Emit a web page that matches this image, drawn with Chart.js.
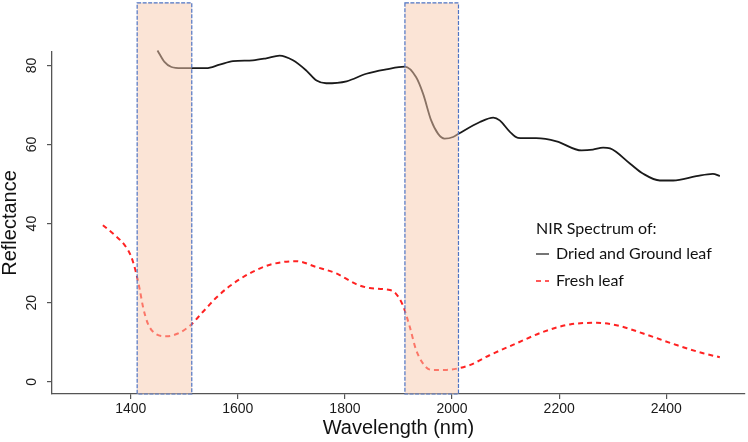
<!DOCTYPE html>
<html>
<head>
<meta charset="utf-8">
<script src="https://cdn.jsdelivr.net/npm/chart.js@4"></script>
<style>
  html, body { margin: 0; padding: 0; background: #ffffff; }
  #wrap { width: 748px; height: 442px; }
</style>
</head>
<body>
<div id="wrap"><canvas id="nirChart" width="748" height="442"></canvas></div>
<script>
// Dried and ground leaf spectrum (solid black)
const wlDried = [1450, 1463, 1476, 1495, 1514, 1541, 1566, 1591, 1628, 1653, 1678, 1703, 1728, 1747, 1765, 1803, 1840, 1877, 1912, 1933, 1946, 1961, 1974, 1986, 2002, 2012, 2052, 2077, 2089, 2108, 2123, 2157, 2195, 2242, 2263, 2282, 2295, 2332, 2357, 2388, 2413, 2456, 2487, 2500];
const reflDried = [83.8, 80.9, 79.6, 79.3, 79.3, 79.3, 80.2, 81.1, 81.3, 81.8, 82.5, 81.3, 78.7, 76.2, 75.5, 76.0, 77.9, 79.0, 79.7, 77.0, 72.8, 66.1, 62.7, 61.5, 61.9, 62.7, 65.7, 66.8, 66.1, 63.2, 61.7, 61.6, 60.8, 58.5, 58.7, 59.2, 59.0, 55.2, 52.6, 50.9, 50.9, 52.0, 52.6, 52.0];

// Fresh leaf spectrum (red dashed)
const wlFresh = [1348, 1370, 1389, 1401, 1411, 1417, 1423, 1432, 1448, 1467, 1488, 1510, 1535, 1560, 1585, 1622, 1660, 1709, 1747, 1784, 1821, 1846, 1884, 1895, 1908, 1921, 1933, 1952, 1965, 1990, 2012, 2033, 2070, 2120, 2170, 2220, 2270, 2307, 2357, 2419, 2469, 2500];
const reflFresh = [39.6, 37.1, 34.5, 31.6, 27.0, 23.2, 18.9, 14.7, 12.0, 11.5, 12.2, 14.1, 17.7, 21.3, 24.2, 27.4, 29.6, 30.5, 29.0, 27.4, 24.7, 23.7, 23.2, 22.3, 19.4, 13.9, 8.0, 3.6, 3.0, 3.0, 3.4, 4.2, 6.7, 9.7, 12.6, 14.5, 14.9, 14.3, 12.2, 9.3, 7.2, 6.2];

// water absorption bands (nm)
const bandStart = [1412, 1912];
const bandEnd = [1514, 2012];
const bandTop = 95.8;

const xTicks = [1400, 1600, 1800, 2000, 2200, 2400];
const yTicks = [0, 20, 40, 60, 80];
const xMin = 1253, xMax = 2547;
const yMin = -3.1, yMax = 83.4;

const legendTitle = 'NIR Spectrum of:';

function toPoints(xs, ys) {
    return xs.map((x, i) => ({ x: x, y: ys[i] }));
}

// shaded bands drawn over the lines, plus the legend
const bandsPlugin = {
    id: 'bands',
    afterDatasetsDraw(chart) {
        const ctx = chart.ctx;
        const xs = chart.scales.x, ys = chart.scales.y;
        ctx.save();
        for (let i = 0; i < bandStart.length; i++) {
            const x1 = xs.getPixelForValue(bandStart[i]);
            const x2 = xs.getPixelForValue(bandEnd[i]);
            const y1 = ys.getPixelForValue(bandTop);
            const y2 = ys.getPixelForValue(yMin);
            ctx.fillStyle = 'rgba(247, 201, 173, 0.5)';
            ctx.fillRect(x1, y1, x2 - x1, y2 - y1);
            ctx.strokeStyle = '#4f74c4';
            ctx.lineWidth = 1.2;
            ctx.setLineDash([4, 1.5]);
            ctx.strokeRect(x1, y1, x2 - x1, y2 - y1);
        }
        ctx.restore();
    },
    afterDraw(chart) {
        const ctx = chart.ctx;
        ctx.save();
        ctx.font = '16px Lato, "Open Sans", sans-serif';
        ctx.fillStyle = '#111';
        ctx.textBaseline = 'middle';
        ctx.fillText(legendTitle, 536, 229);
        chart.data.datasets.forEach((ds, i) => {
            const y = 254 + i * 27;
            ctx.strokeStyle = ds.borderColor;
            ctx.lineWidth = ds.borderWidth > 1.9 ? 1.6 : 1.2;
            ctx.setLineDash(ds.borderDash || []);
            ctx.beginPath();
            ctx.moveTo(536, y);
            ctx.lineTo(549, y);
            ctx.stroke();
            ctx.fillStyle = '#111';
            ctx.fillText(ds.label, 556, y);
        });
        ctx.restore();
    }
};

const axisColor = '#555';
const tickFont = { family: 'Arial, "Liberation Sans", sans-serif', size: 14 };
const titleFont = { family: 'Arial, "Liberation Sans", sans-serif', size: 20, lineHeight: 1 };

new Chart(document.getElementById('nirChart').getContext('2d'), {
    type: 'line',
    data: {
        datasets: [{
            label: 'Dried and Ground leaf',
            data: toPoints(wlDried, reflDried),
            borderColor: '#1a1a1a',
            borderWidth: 1.8,
            pointRadius: 0,
            cubicInterpolationMode: 'monotone',
            clip: false
        }, {
            label: 'Fresh leaf',
            data: toPoints(wlFresh, reflFresh),
            borderColor: '#ff2222',
            borderWidth: 2,
            borderDash: [5, 4],
            pointRadius: 0,
            cubicInterpolationMode: 'monotone',
            clip: false
        }]
    },
    options: {
        responsive: false,
        animation: false,
        layout: { padding: { top: 52, right: 3, left: 0, bottom: 0 } },
        plugins: {
            legend: { display: false },
            tooltip: { enabled: false }
        },
        scales: {
            x: {
                type: 'linear',
                min: xMin,
                max: xMax,
                afterBuildTicks: scale => { scale.ticks = xTicks.map(v => ({ value: v })); },
                afterFit: scale => { scale.height = 48; },
                ticks: { font: tickFont, color: '#1a1a1a', padding: 2, maxRotation: 0, callback: v => String(v) },
                grid: { drawOnChartArea: false, drawTicks: true, tickLength: 5, color: axisColor, lineWidth: 1.2 },
                border: { display: true, color: axisColor, width: 1.3 },
                title: { display: true, text: 'Wavelength (nm)', font: titleFont, color: '#111', padding: { top: 0, bottom: 4 } }
            },
            y: {
                min: yMin,
                max: yMax,
                afterBuildTicks: scale => { scale.ticks = yTicks.map(v => ({ value: v })); },
                afterFit: scale => { scale.width = 52; },
                ticks: { font: tickFont, color: '#1a1a1a', padding: 7, minRotation: 90, maxRotation: 90, crossAlign: 'center', callback: v => String(v) },
                grid: { drawOnChartArea: false, drawTicks: true, tickLength: 5, color: axisColor, lineWidth: 1.2 },
                border: { display: true, color: axisColor, width: 1.3 },
                title: { display: true, text: 'Reflectance', font: titleFont, color: '#111', padding: { top: 0, bottom: 0 } }
            }
        }
    },
    plugins: [bandsPlugin]
});
</script>
</body>
</html>
